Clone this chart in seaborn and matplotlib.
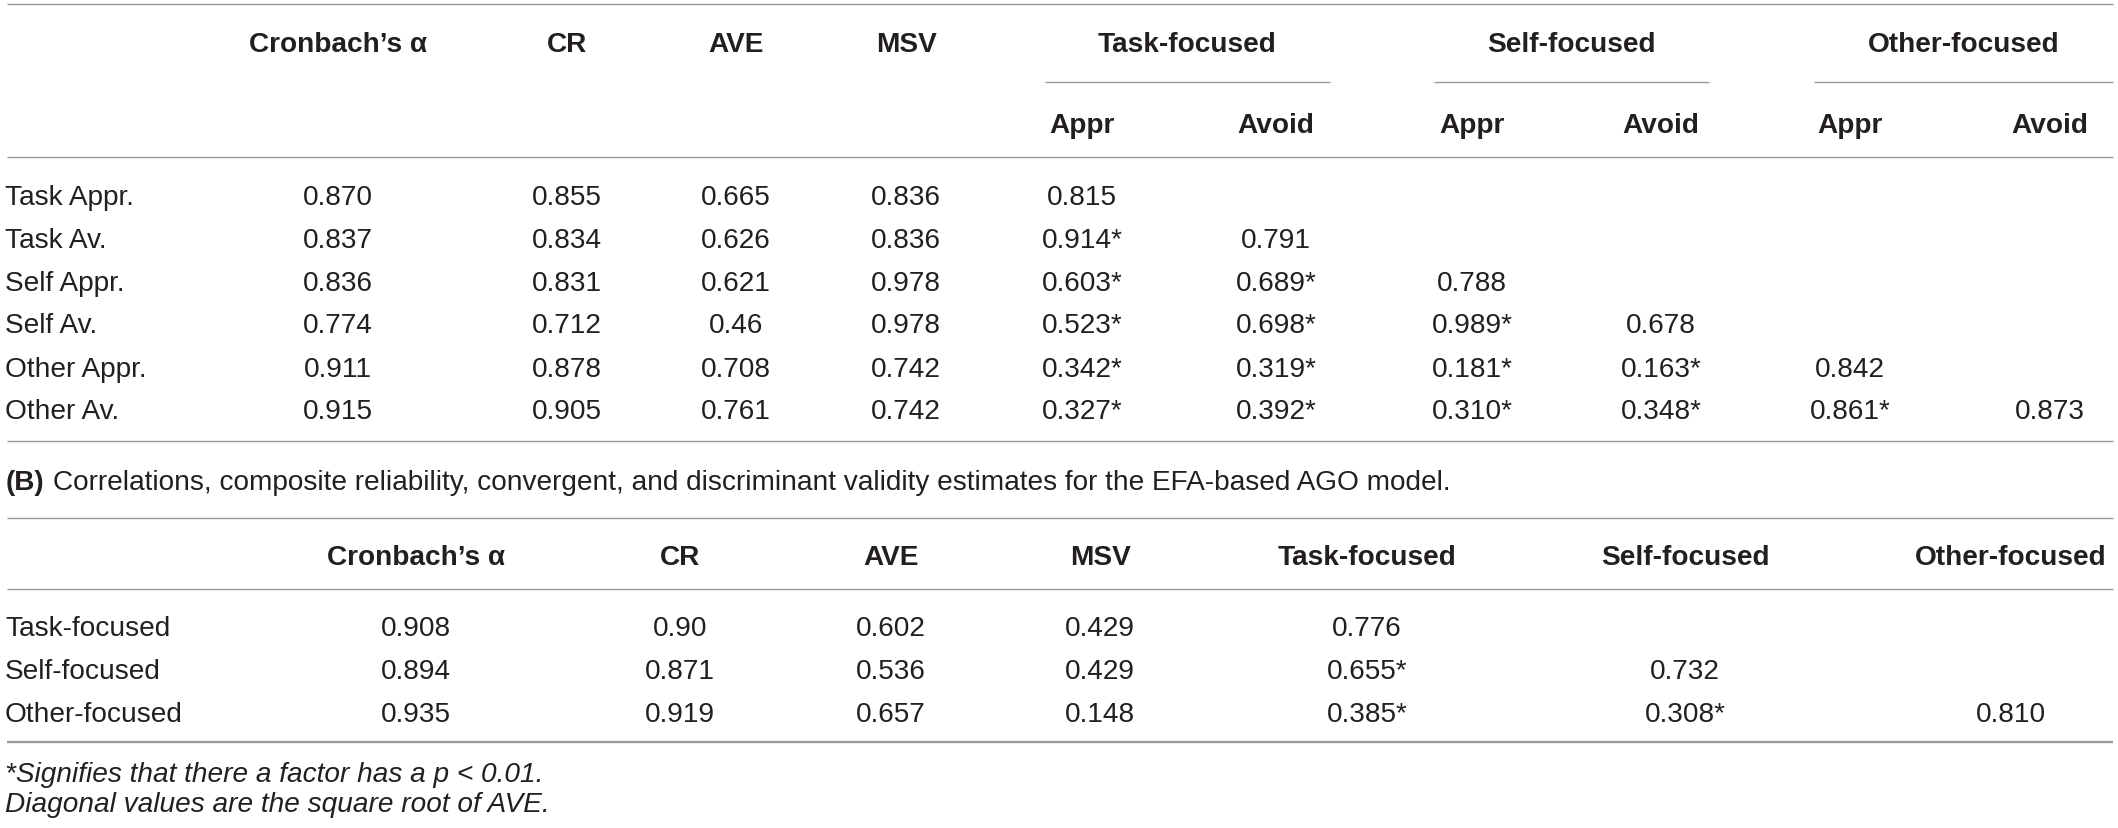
import matplotlib
matplotlib.use("Agg")
import matplotlib.pyplot as plt
import seaborn as sns

# ---- panel A data ----
rows_a = ["Task Appr.", "Task Av.", "Self Appr.", "Self Av.", "Other Appr.", "Other Av."]
cronbach_a = ["0.870", "0.837", "0.836", "0.774", "0.911", "0.915"]
cr_a = ["0.855", "0.834", "0.831", "0.712", "0.878", "0.905"]
ave_a = ["0.665", "0.626", "0.621", "0.46", "0.708", "0.761"]
msv_a = ["0.836", "0.836", "0.978", "0.978", "0.742", "0.742"]
corr_a = [
    ["0.815"],
    ["0.914*", "0.791"],
    ["0.603*", "0.689*", "0.788"],
    ["0.523*", "0.698*", "0.989*", "0.678"],
    ["0.342*", "0.319*", "0.181*", "0.163*", "0.842"],
    ["0.327*", "0.392*", "0.310*", "0.348*", "0.861*", "0.873"],
]
groups = ["Task-focused", "Self-focused", "Other-focused"]
sub_cols = ["Appr", "Avoid"]
stat_cols = ["Cronbach\u2019s \u03b1", "CR", "AVE", "MSV"]

# ---- panel B data ----
caption_b = "Correlations, composite reliability, convergent, and discriminant validity estimates for the EFA-based AGO model."
rows_b = ["Task-focused", "Self-focused", "Other-focused"]
cronbach_b = ["0.908", "0.894", "0.935"]
cr_b = ["0.90", "0.871", "0.919"]
ave_b = ["0.602", "0.536", "0.657"]
msv_b = ["0.429", "0.429", "0.148"]
corr_b = [
    ["0.776"],
    ["0.655*", "0.732"],
    ["0.385*", "0.308*", "0.810"],
]
notes = ["*Signifies that there a factor has a p < 0.01.",
         "Diagonal values are the square root of AVE."]

# ---- layout (pixels) ----
W, H = 2118, 829
X0, X1 = 7, 2113
xa = [338, 567, 736, 906, 1082, 1276, 1472, 1661, 1850, 2050]
group_span = [(1045, 1330), (1434, 1709), (1814, 2113)]
ya_rows = [195, 238, 281, 323, 367, 409]
xb = [416, 680, 891, 1100, 1367, 1685, 2011]
yb_rows = [626, 669, 712]
BL = 10  # center -> baseline offset

sns.set_theme(style="white")
plt.rcParams["font.family"] = ["Liberation Sans", "DejaVu Sans"]
TXT = "#231f20"
LINE = "#9a9a9a"
FS = 20.2

fig = plt.figure(figsize=(W / 100, H / 100), dpi=100)
ax = fig.add_axes([0, 0, 1, 1])
ax.set_xlim(0, W)
ax.set_ylim(H, 0)
ax.axis("off")


def t(x, y, s, ha="center", **kw):
    ax.text(x, y + BL, s, ha=ha, va="baseline", color=TXT, fontsize=FS, **kw)


def rule(y, x0=X0, x1=X1, lw=1.0):
    ax.hlines(y, x0, x1, color=LINE, lw=lw)


# panel A
rule(5)
for x, s in zip(xa[:4], stat_cols):
    t(x, 42, s, fontweight="bold")
for (g0, g1), g in zip(group_span, groups):
    t((g0 + g1) / 2, 42, g, fontweight="bold")
    rule(83, g0, g1)
for i, x in enumerate(xa[4:]):
    t(x, 123, sub_cols[i % 2], fontweight="bold")
rule(158)
for r, y in enumerate(ya_rows):
    t(X0 - 2, y, rows_a[r], ha="left")
    for x, s in zip(xa[:4], [cronbach_a[r], cr_a[r], ave_a[r], msv_a[r]]):
        t(x, y, s)
    for x, s in zip(xa[4:], corr_a[r]):
        t(x, y, s)
rule(442)

# panel B
ax.text(X0 - 1, 480 + BL, "(B)", ha="left", va="baseline", color=TXT,
        fontsize=FS, fontweight="bold")
ax.text(X0 + 46, 480 + BL, caption_b, ha="left", va="baseline", color=TXT,
        fontsize=FS)
rule(519)
for x, s in zip(xb, stat_cols + groups):
    t(x, 555, s, fontweight="bold")
rule(590)
for r, y in enumerate(yb_rows):
    t(X0 - 2, y, rows_b[r], ha="left")
    for x, s in zip(xb[:4], [cronbach_b[r], cr_b[r], ave_b[r], msv_b[r]]):
        t(x, y, s)
    for x, s in zip(xb[4:], corr_b[r]):
        t(x, y, s)
rule(743, lw=1.7)

for y, s in zip([772, 802], notes):
    t(X0 - 2, y, s, ha="left", fontstyle="italic")

fig.savefig("out.png", dpi=100)
